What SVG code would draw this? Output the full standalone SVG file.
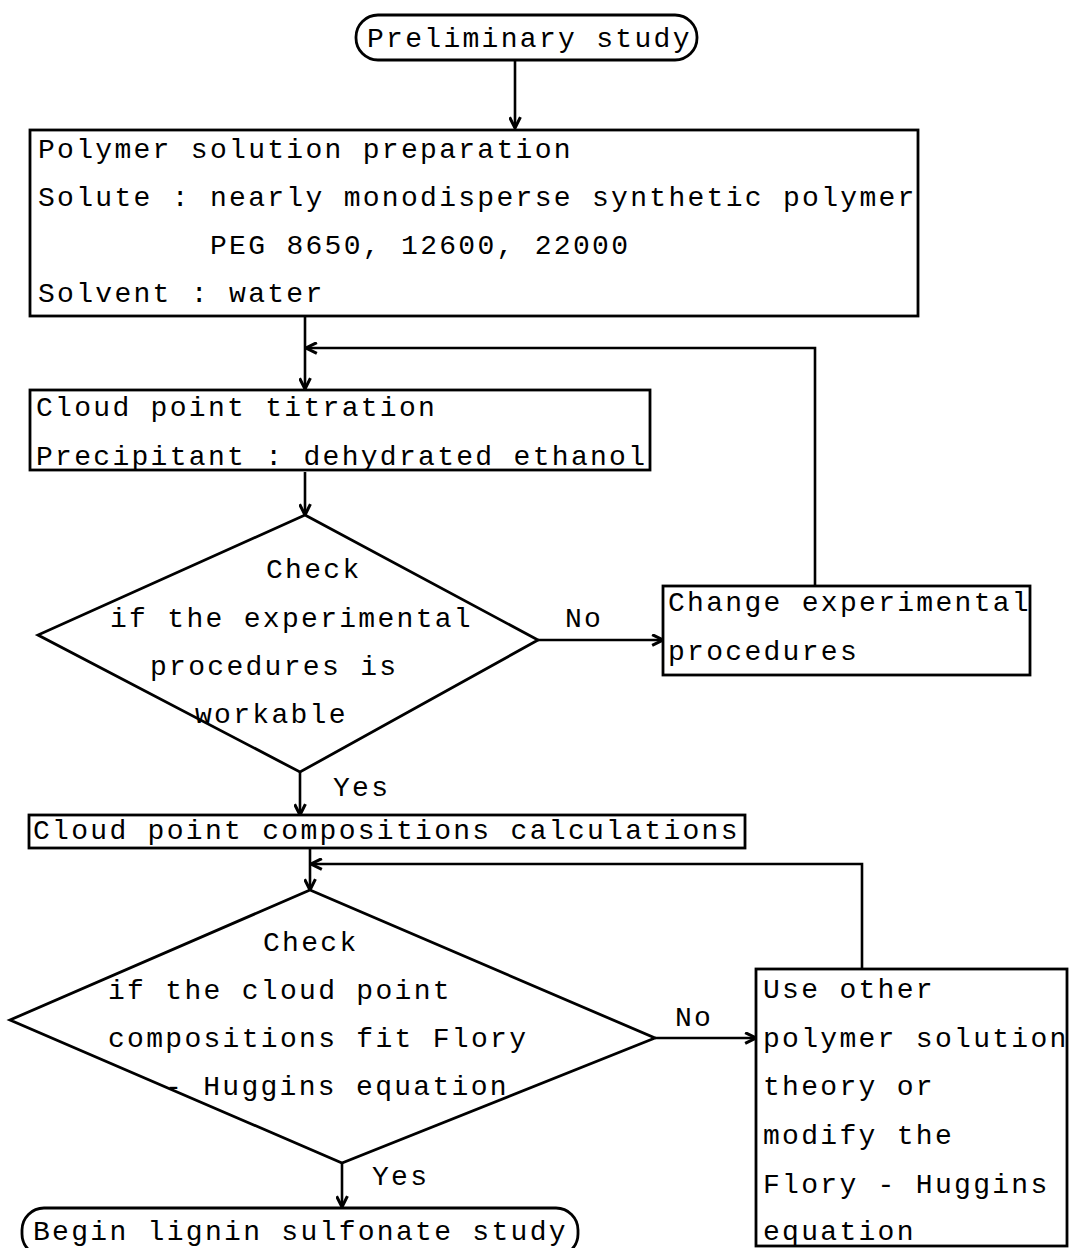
<svg xmlns="http://www.w3.org/2000/svg" width="1069" height="1248" viewBox="0 0 1069 1248">
<defs>
<marker id="ah" viewBox="0 0 12 12" refX="11" refY="6" markerWidth="13" markerHeight="13" markerUnits="userSpaceOnUse" orient="auto">
<path d="M1,1 L11,6 L1,11" fill="none" stroke="#000" stroke-width="2.8"/>
</marker>
<style>
.t{font-family:"Liberation Mono","DejaVu Sans Mono",monospace;font-size:28px;letter-spacing:2.3px;fill:#000}
.s{fill:#fff;stroke:#000;stroke-width:2.8}
.c{fill:none;stroke:#000;stroke-width:2.6}
</style>
</defs>
<rect width="1069" height="1248" fill="#fff"/>

<g id="connectors">
<line class="c" x1="515" y1="60" x2="515" y2="128" marker-end="url(#ah)"/>
<line class="c" x1="305" y1="314" x2="305" y2="389" marker-end="url(#ah)"/>
<polyline class="c" points="815,585 815,348 306,348" marker-end="url(#ah)"/>
<line class="c" x1="305" y1="472" x2="305" y2="515" marker-end="url(#ah)"/>
<line class="c" x1="538" y1="640" x2="663" y2="640" marker-end="url(#ah)"/>
<text class="t" x="565" y="627">No</text>
<line class="c" x1="300" y1="772" x2="300" y2="815" marker-end="url(#ah)"/>
<text class="t" x="333" y="796">Yes</text>
<line class="c" x1="310" y1="849" x2="310" y2="890" marker-end="url(#ah)"/>
<polyline class="c" points="862,968 862,864 311,864" marker-end="url(#ah)"/>
<line class="c" x1="655" y1="1038" x2="756" y2="1038" marker-end="url(#ah)"/>
<text class="t" x="675" y="1026">No</text>
<line class="c" x1="342" y1="1163" x2="342" y2="1207" marker-end="url(#ah)"/>
<text class="t" x="372" y="1185">Yes</text>
</g>

<g id="preliminary">
<rect class="s" x="356" y="15" width="341" height="45" rx="22" ry="22"/>
<text class="t" x="367" y="47">Preliminary study</text>
</g>

<g id="preparation">
<rect class="s" x="30" y="130" width="888" height="186"/>
<text class="t" x="38" y="158">Polymer solution preparation</text>
<text class="t" x="38" y="206">Solute : nearly monodisperse synthetic polymer</text>
<text class="t" x="210" y="254">PEG 8650, 12600, 22000</text>
<text class="t" x="38" y="302">Solvent : water</text>
</g>

<g id="titration">
<rect class="s" x="30" y="390" width="620" height="80"/>
<text class="t" x="36" y="416">Cloud point titration</text>
<text class="t" x="36" y="465">Precipitant : dehydrated ethanol</text>
</g>

<g id="check1">
<polygon class="s" points="305,515 538,640 300,772 38,635"/>
<text class="t" x="266" y="578">Check</text>
<text class="t" x="110" y="627">if the experimental</text>
<text class="t" x="150" y="675">procedures is</text>
<text class="t" x="195" y="723">workable</text>
</g>

<g id="change">
<rect class="s" x="663" y="586" width="367" height="89"/>
<text class="t" x="668" y="611">Change experimental</text>
<text class="t" x="668" y="660">procedures</text>
</g>

<g id="calculations">
<rect class="s" x="29" y="815" width="716" height="33"/>
<text class="t" x="33" y="839">Cloud point compositions calculations</text>
</g>

<g id="check2">
<polygon class="s" points="310,890 655,1038 342,1163 10,1020"/>
<text class="t" x="263" y="951">Check</text>
<text class="t" x="108" y="999">if the cloud point</text>
<text class="t" x="108" y="1047">compositions fit Flory</text>
<text class="t" x="165" y="1095">- Huggins equation</text>
</g>

<g id="other">
<rect class="s" x="756" y="969" width="311" height="277"/>
<text class="t" x="763" y="998">Use other</text>
<text class="t" x="763" y="1047">polymer solution</text>
<text class="t" x="763" y="1095">theory or</text>
<text class="t" x="763" y="1144">modify the</text>
<text class="t" x="763" y="1193">Flory - Huggins</text>
<text class="t" x="763" y="1240">equation</text>
</g>

<g id="begin">
<rect class="s" x="22" y="1208" width="556" height="48" rx="22" ry="22"/>
<text class="t" x="33" y="1240">Begin lignin sulfonate study</text>
</g>
</svg>
